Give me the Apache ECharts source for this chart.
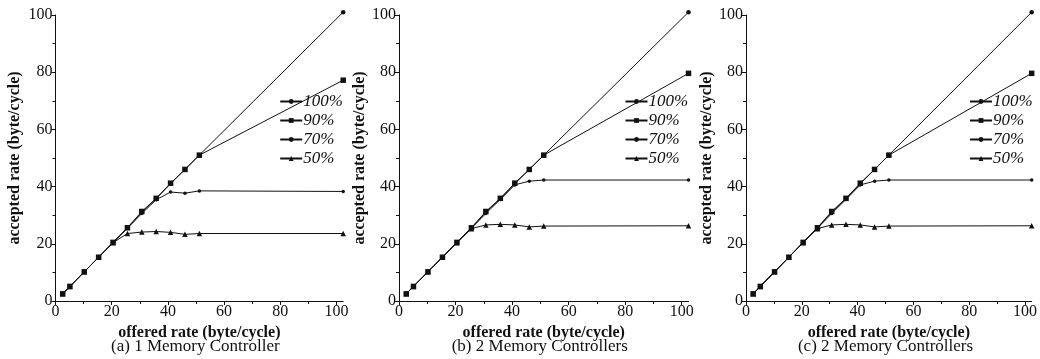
<!DOCTYPE html>
<html>
<head>
<meta charset="utf-8">
<script src="https://cdn.jsdelivr.net/npm/echarts@6/dist/echarts.min.js"></script>
<style>
  html, body { margin: 0; padding: 0; background: #fff; }
  #chart { width: 1040px; height: 359px; }
</style>
</head>
<body>
<div id="chart"></div>
<script>
// offered load points (byte/cycle), shared by all three panels
const offered = [2.56, 5.12, 10.24, 15.36, 20.48, 25.6, 30.72, 35.84, 40.96, 46.08, 51.2, 102.4];

const seriesNames = ["100%", "90%", "70%", "50%"];
const captions = ["(a) 1 Memory Controller", "(b) 2 Memory Controllers", "(c) 2 Memory Controllers"];

const majorTicks = [0, 20, 40, 60, 80, 100];
const minorTicks = [10, 30, 50, 70, 90];

// (a) 1 memory controller
const a100 = [2.5, 5.1, 10.2, 15.3, 20.5, 25.6, 31.0, 35.8, 41.0, 46.0, 51.0, 101.0];
const a90 = [2.5, 5.1, 10.2, 15.3, 20.5, 25.6, 31.3, 35.9, 41.2, 46.0, 51.0, 77.2];
const a70 = [2.5, 5.1, 10.2, 15.3, 20.4, 25.4, 30.6, 35.4, 38.1, 37.7, 38.5, 38.3];
const a50 = [2.5, 5.1, 10.2, 15.3, 20.4, 23.6, 24.1, 24.3, 24.0, 23.3, 23.6, 23.6];

// (b) 2 memory controllers
const b100 = [2.5, 5.1, 10.2, 15.3, 20.5, 25.6, 31.0, 35.8, 41.0, 46.0, 51.0, 101.0];
const b90 = [2.5, 5.1, 10.2, 15.3, 20.5, 25.6, 31.3, 35.9, 41.2, 46.0, 51.0, 79.6];
const b70 = [2.5, 5.1, 10.2, 15.3, 20.4, 25.4, 30.6, 35.5, 40.6, 41.9, 42.3, 42.3];
const b50 = [2.5, 5.1, 10.2, 15.3, 20.4, 25.3, 26.6, 26.8, 26.6, 25.9, 26.2, 26.3];

// (c) 2 memory controllers
const c100 = [2.5, 5.1, 10.2, 15.3, 20.5, 25.6, 31.0, 35.8, 41.0, 46.0, 51.0, 101.0];
const c90 = [2.5, 5.1, 10.2, 15.3, 20.5, 25.6, 31.3, 35.9, 41.2, 46.0, 51.0, 79.6];
const c70 = [2.5, 5.1, 10.2, 15.3, 20.4, 25.4, 30.6, 35.5, 40.6, 41.9, 42.3, 42.3];
const c50 = [2.5, 5.1, 10.2, 15.3, 20.4, 25.3, 26.6, 26.8, 26.6, 25.9, 26.2, 26.3];

const panels = [
  [a100, a90, a70, a50],
  [b100, b90, b70, b50],
  [c100, c90, c70, c50],
];

// --- layout / style ---------------------------------------------------------
const FONT = "Liberation Serif";
const INK = "#111";
const grids = [
  { left: 55.5, top: 15, width: 287.7, height: 286 },
  { left: 399, top: 15, width: 289.5, height: 286 },
  { left: 746, top: 15, width: 287, height: 286 },
];
const yNameGaps = [32.5, 28, 30];
const markers = [
  { symbol: "circle", size: 4.5 },
  { symbol: "rect", size: 5.5 },
  { symbol: "circle", size: 3.5 },
  { symbol: "triangle", size: 5.5 },
];

const lineOf = (w) => ({ lineStyle: { color: INK, width: w } });

const xAxes = [];
const yAxes = [];
const series = [];
const legends = [];
const captionsGfx = [];

grids.forEach((g, i) => {
  // main axes: majors outside, with labels
  xAxes.push({
    type: "value", gridIndex: i, min: 0, max: 102.4,
    name: "offered rate (byte/cycle)", nameLocation: "middle", nameGap: 18,
    nameTextStyle: { fontFamily: FONT, fontWeight: "bold", fontSize: 16, color: INK },
    axisLine: lineOf(1),
    axisTick: { show: true, length: 4, customValues: majorTicks, ...lineOf(1) },
    axisLabel: { customValues: majorTicks, margin: 3, fontFamily: FONT, fontSize: 16, color: INK },
    splitLine: { show: false },
  });
  // overlay axis only for inside minor ticks
  xAxes.push({
    type: "value", gridIndex: i, min: 0, max: 102.4,
    axisLine: { show: false },
    axisTick: { show: true, inside: true, length: 3, customValues: minorTicks, ...lineOf(1) },
    axisLabel: { show: false },
    splitLine: { show: false },
  });
  yAxes.push({
    type: "value", gridIndex: i, min: 0, max: 100, interval: 20,
    name: "accepted rate (byte/cycle)", nameLocation: "middle", nameGap: yNameGaps[i],
    nameTextStyle: { fontFamily: FONT, fontWeight: "bold", fontSize: 16, color: INK },
    axisLine: { show: true, ...lineOf(1) },
    axisTick: { show: true, length: 4, ...lineOf(1) },
    axisLabel: { margin: 3, fontFamily: FONT, fontSize: 16, color: INK },
    splitLine: { show: false },
  });
  yAxes.push({
    type: "value", gridIndex: i, min: 0, max: 100,
    axisLine: { show: false },
    axisTick: { show: true, inside: true, length: 3, customValues: minorTicks, ...lineOf(1) },
    axisLabel: { show: false },
    splitLine: { show: false },
  });

  panels[i].forEach((vals, k) => {
    series.push({
      name: seriesNames[k],
      type: "line",
      xAxisIndex: i * 2,
      yAxisIndex: i * 2,
      data: offered.map((x, j) => [x, vals[j]]),
      symbol: markers[k].symbol,
      symbolSize: markers[k].size,
      itemStyle: { color: INK },
      lineStyle: { color: INK, width: 1 },
      clip: false,
      animation: false,
      z: 10 - k,
    });
  });

  legends.push({
    data: seriesNames,
    orient: "vertical",
    left: g.left + g.width - 69,
    top: 88,
    itemWidth: 22,
    itemHeight: 6,
    itemGap: 2,
    selectedMode: false,
    textStyle: { fontFamily: FONT, fontStyle: "italic", fontSize: 17, color: INK, padding: [0, 0, 0, -4] },
  });

  captionsGfx.push({
    type: "text",
    x: g.left + g.width / 2 - 4,
    y: 347,
    style: {
      text: captions[i],
      font: "17px " + FONT,
      fill: INK,
      textAlign: "center",
      textVerticalAlign: "middle",
    },
  });
});

const chart = echarts.init(document.getElementById("chart"), null, { renderer: "canvas" });
chart.setOption({
  animation: false,
  backgroundColor: "#fff",
  grid: grids,
  xAxis: xAxes,
  yAxis: yAxes,
  legend: legends,
  series,
  graphic: captionsGfx,
});
</script>
</body>
</html>
